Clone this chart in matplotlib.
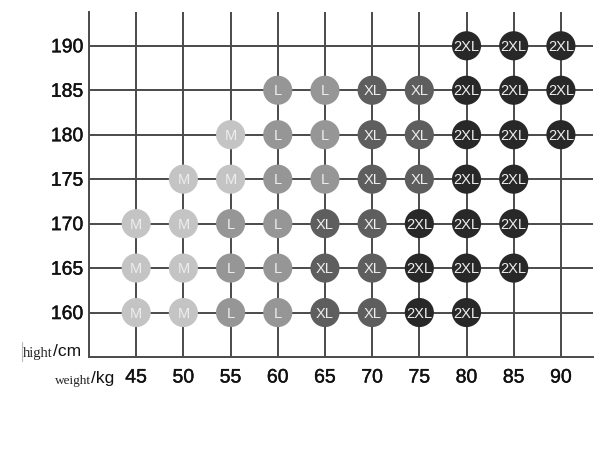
import matplotlib
matplotlib.use("Agg")
import matplotlib.pyplot as plt
import matplotlib.patheffects as pe

# ── Data ──────────────────────────────────────────────────────────────────────
weights = [45, 50, 55, 60, 65, 70, 75, 80, 85, 90]
heights = [160, 165, 170, 175, 180, 185, 190]

# size per (height, weight); None = no circle
sizes = {
    190: [None, None, None, None, None, None, None, "2XL", "2XL", "2XL"],
    185: [None, None, None, "L", "L", "XL", "XL", "2XL", "2XL", "2XL"],
    180: [None, None, "M", "L", "L", "XL", "XL", "2XL", "2XL", "2XL"],
    175: [None, "M", "M", "L", "L", "XL", "XL", "2XL", "2XL", None],
    170: ["M", "M", "L", "L", "XL", "XL", "2XL", "2XL", "2XL", None],
    165: ["M", "M", "L", "L", "XL", "XL", "2XL", "2XL", "2XL", None],
    160: ["M", "M", "L", "L", "XL", "XL", "2XL", "2XL", None, None],
}

size_colors = {"M": "#c4c4c4", "L": "#969696", "XL": "#5e5e5e", "2XL": "#282828"}

# ── Figure ────────────────────────────────────────────────────────────────────
fig = plt.figure(figsize=(6.0, 4.64), dpi=100)
ax = fig.add_axes([89 / 600, 106 / 464, 504 / 600, 345 / 464])
ax.set_xlim(40, 93.4)
ax.set_ylim(155, 193.8)

line_kw = dict(color="#4a4a4a", lw=1.4, zorder=1)
for w in weights:
    ax.axvline(w, **line_kw)
for h in heights:
    ax.axhline(h, **line_kw)

for spine in ["top", "right"]:
    ax.spines[spine].set_visible(False)
for spine in ["left", "bottom"]:
    ax.spines[spine].set_color("#4a4a4a")
    ax.spines[spine].set_linewidth(1.4)

for h in heights:
    for w, s in zip(weights, sizes[h]):
        if s is None:
            continue
        ax.scatter(w, h, s=440, color=size_colors[s], edgecolor="none", zorder=3)
        ax.text(w, h, s, color="#eeeeee", fontsize=10.5, ha="center", va="center",
                family="Liberation Sans", zorder=4)

# slightly heavier tick digits, like the reference
thick = [pe.withStroke(linewidth=0.3, foreground="#111111")]
ax.set_xticks(weights)
ax.set_yticks(heights)
ax.set_xticklabels([str(w) for w in weights], fontsize=14, family="Liberation Sans",
                   color="#111111", path_effects=thick)
ax.set_yticklabels([str(h) for h in heights], fontsize=14, family="Liberation Sans",
                   color="#111111", path_effects=thick)
ax.tick_params(axis="x", length=0, pad=9)
ax.tick_params(axis="y", length=0, pad=4)

# axis captions: serif word followed by a sans unit
t_h = fig.text(23 / 600, 1 - 360 / 464, "hight", family="Liberation Serif",
               fontsize=10.5, ha="left", va="bottom", color="#222222")
ax.annotate("/cm", xy=(1, 0.05), xycoords=t_h, ha="left", va="bottom",
            family="Liberation Sans", fontsize=12.5, color="#111111",
            annotation_clip=False)
t_w = fig.text(55 / 600, 1 - 387 / 464, "weight", family="Liberation Serif",
               fontsize=9.5, ha="left", va="bottom", color="#222222")
ax.annotate("/kg", xy=(1, 0.05), xycoords=t_w, ha="left", va="bottom",
            family="Liberation Sans", fontsize=12.5, color="#111111",
            annotation_clip=False)
fig.add_artist(plt.Line2D([22 / 600, 22 / 600], [1 - 362 / 464, 1 - 343 / 464],
                          color="#bbbbbb", lw=0.8))

fig.savefig("out.png", dpi=100)
